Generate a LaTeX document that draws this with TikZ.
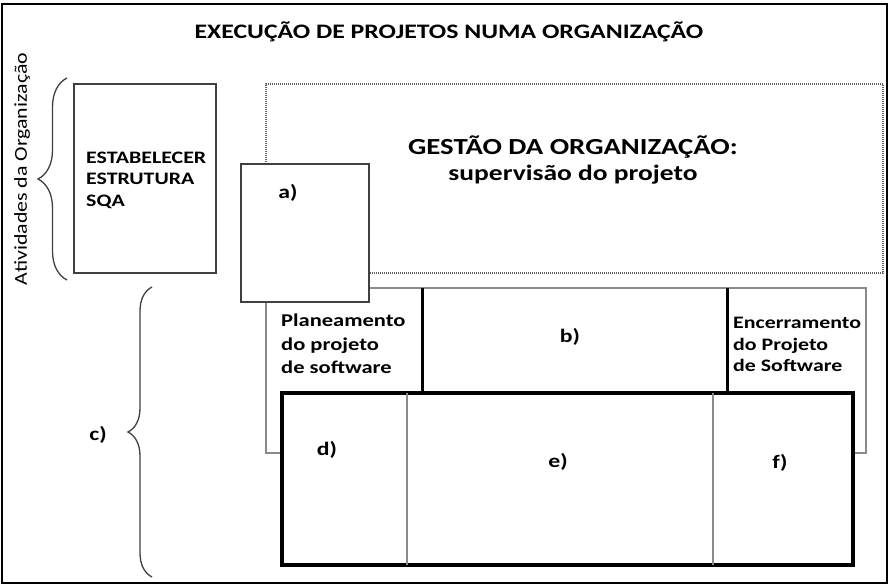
\documentclass[tikz,border=0pt]{standalone}
\usepackage{fontspec}
\setmainfont[FakeStretch=1.25]{Carlito}
\newfontfamily\sidefont[FakeStretch=1.2]{Carlito}
\usetikzlibrary{positioning, decorations.pathreplacing}
\definecolor{boxline}{HTML}{404040}
\definecolor{softline}{HTML}{8A8A8A}
\definecolor{dotline}{HTML}{606060}
\tikzset{
  plainbox/.style={draw=boxline, line width=1.4pt, fill=white, inner sep=0pt,
    outer sep=0pt, anchor=north west},
  dotbox/.style={draw=dotline, line width=1.3pt, dash pattern=on 1pt off 1pt,
    inner sep=0pt, outer sep=0pt, anchor=north west},
  phasebox/.style={draw=softline, line width=1.2pt, inner sep=0pt,
    outer sep=0pt, anchor=north west},
  heavybox/.style={draw=black, line width=3.5pt, fill=white, inner sep=0pt,
    outer sep=0pt, anchor=north west},
  divider/.style={draw=black, line width=3pt},
  thindiv/.style={draw=softline, line width=1.4pt},
  curly/.style={draw=boxline, line width=1.3pt,
    decorate, decoration={brace, mirror, amplitude=#1}},
  tag/.style={font=\fontsize{19}{22}\selectfont\bfseries},
  blocktext/.style={font=\fontsize{17.5}{21.5}\selectfont\bfseries,
    align=left, anchor=north west, inner sep=0pt},
}
\begin{document}
\begin{tikzpicture}[x=1pt, y=-1pt]
  \useasboundingbox (0,0) rectangle (892,588);
  % === Outer frame and title ===
  \draw[line width=2pt] (2,4) rectangle (887,583);
  \node[font=\fontsize{20.6}{24}\selectfont\bfseries] (title) at (449,32)
    {EXECUÇÃO DE PROJETOS NUMA ORGANIZAÇÃO};
  \node[font=\sidefont\fontsize{18.2}{22}\selectfont, rotate=90] (orglabel) at (22,169)
    {Atividades da Organização};

  % === Organisation level ===
  \node[dotbox, minimum width=617pt, minimum height=189pt] (gestao) at (266,84) {};
  \node[font=\fontsize{23}{26}\selectfont\bfseries, align=center] (gestaotxt)
    at (573,160) {GESTÃO DA ORGANIZAÇÃO:\\{\fontsize{22}{26}\selectfont supervisão do projeto}};
  \node[plainbox, minimum width=142pt, minimum height=189pt] (sqa) at (74,84) {};
  \node[blocktext] (sqatxt) at (86,151.5) {ESTABELECER\\ESTRUTURA\\SQA};

  % === Project phases ===
  \node[phasebox, minimum width=600pt, minimum height=165pt] (phases) at (266,288) {};
  \draw[softline, line width=2.4pt] (phases.north east) -- (phases.south east);
  \node[plainbox, minimum width=128pt, minimum height=138pt] (boxa) at (241,164) {};
  \node[tag] (taga) at (288,193) {a)};
  \draw[divider] (422,288) -- (422,393);
  \draw[divider] (727,288) -- (727,393);
  \node[blocktext, font=\fontsize{18}{23.5}\selectfont\bfseries] (plantxt)
    at (281,314) {Planeamento\\do projeto\\de software};
  \node[tag] (tagb) at (570,337) {b)};
  \node[blocktext] (enctxt) at (733,317) {Encerramento\\do Projeto\\de Software};

  % === Execution block ===
  \node[heavybox, minimum width=571pt, minimum height=172pt] (exec) at (282,393) {};
  \draw[thindiv] (407,393) -- (407,565);
  \draw[thindiv] (713,393) -- (713,565);
  \node[tag] (tagd) at (327,450) {d)};
  \node[tag] (tage) at (558,462) {e)};
  \node[tag] (tagf) at (780,463) {f)};

  % === Braces ===
  \coordinate (b1top) at (67,78);
  \coordinate (b1bot) at (67,280);
  \draw[curly=29pt] (b1top) -- (b1bot);
  \coordinate (b2top) at (152,287);
  \coordinate (b2bot) at (152,577);
  \draw[curly=24pt] (b2top) -- (b2bot);
  \node[tag] (tagc) at (98,435) {c)};
\end{tikzpicture}
\end{document}
